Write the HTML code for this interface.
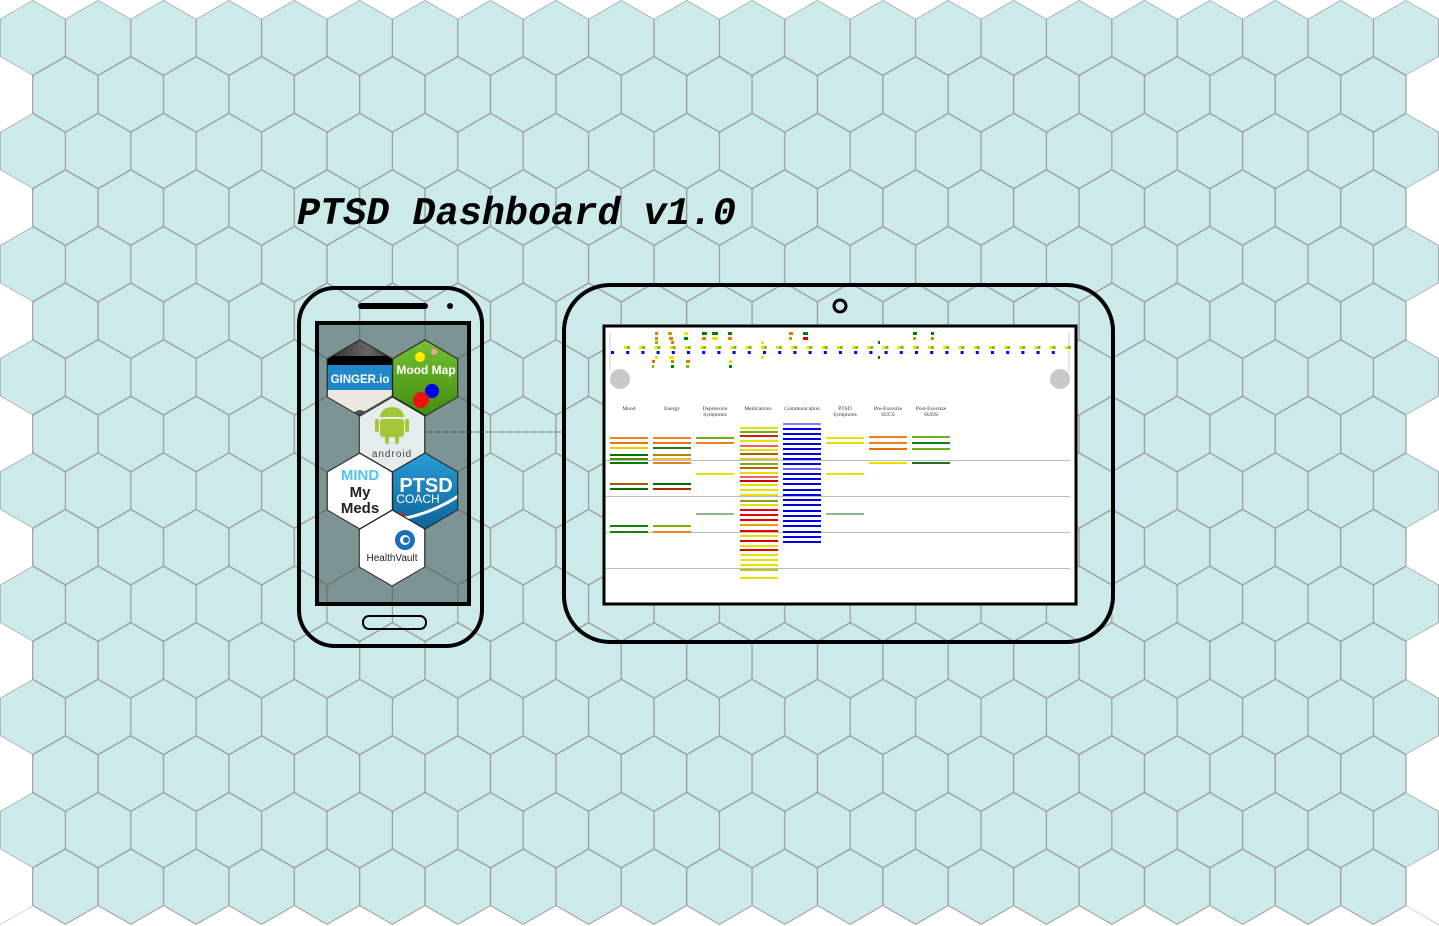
<!DOCTYPE html>
<html><head><meta charset="utf-8"><style>
html,body{margin:0;padding:0;background:#fff;}
svg{display:block;}
</style></head><body>
<svg width="1439" height="926" viewBox="0 0 1439 926" xmlns="http://www.w3.org/2000/svg">
<defs>
<pattern id="hex" x="0" y="0" width="65.4" height="113.2" patternUnits="userSpaceOnUse">
<g fill="#cdeaeb" stroke="#9a9a9a" stroke-width="1.2">
<polygon points="32.7,0 65.4,18.87 65.4,56.6 32.7,75.47 0,56.6 0,18.87"/>
<polygon points="0,56.6 32.7,75.47 32.7,113.2 0,132.07 -32.7,113.2 -32.7,75.47"/>
<polygon points="65.4,56.6 98.1,75.47 98.1,113.2 65.4,132.07 32.7,113.2 32.7,75.47"/>
<polygon points="0,-56.6 32.7,-37.73 32.7,0 0,18.87 -32.7,0 -32.7,-37.73"/>
<polygon points="65.4,-56.6 98.1,-37.73 98.1,0 65.4,18.87 32.7,0 32.7,-37.73"/>
</g>
</pattern>
<pattern id="topw" x="0" y="0" width="65.4" height="19" patternUnits="userSpaceOnUse">
<polygon points="0,0 32.7,0 0,18.87" fill="#fff"/>
<polygon points="32.7,0 65.4,0 65.4,18.87" fill="#fff"/>
</pattern>
<pattern id="botw" x="0" y="905.6" width="65.4" height="21" patternUnits="userSpaceOnUse">
<polygon points="0,19.4 32.7,0.5 65.4,19.4 65.4,21 0,21" fill="#fff"/>
</pattern>
<pattern id="leftw" x="0" y="0" width="40" height="113.2" patternUnits="userSpaceOnUse">
<polygon points="0,56.6 32.1,75.1 32.1,113.6 0,132.07" fill="#fff"/>
<polygon points="0,-56.6 32.1,-38.1 32.1,0.4 0,18.87" fill="#fff"/>
</pattern>
<pattern id="rightw" x="1406" y="0" width="40" height="113.2" patternUnits="userSpaceOnUse">
<polygon points="33,56.6 0.6,75.1 0.6,113.6 33,132.07 40,132 40,56" fill="#fff"/>
<polygon points="33,-56.6 0.6,-38.1 0.6,0.4 33,18.87 40,18.87 40,-56" fill="#fff"/>
</pattern>
<pattern id="bdots" x="611" y="351" width="15.2" height="10" patternUnits="userSpaceOnUse">
<rect x="0" y="0" width="3" height="3" fill="#0000ee"/>
</pattern>
<pattern id="ydots" x="624" y="346" width="15.2" height="10" patternUnits="userSpaceOnUse">
<rect x="0" y="0" width="3" height="3" fill="#e6e600"/>
<rect x="3" y="0" width="3" height="3" fill="#8ab800"/>
</pattern>
<clipPath id="h1"><polygon points="360,340 392.7,359 392.7,397 360,416 327.3,397 327.3,359"/></clipPath>
<clipPath id="h2"><polygon points="425,340 457.7,359 457.7,397 425,416 392.3,397 392.3,359"/></clipPath>
<clipPath id="h3"><polygon points="392,396 424.7,415 424.7,453 392,472 359.3,453 359.3,415"/></clipPath>
<clipPath id="h4"><polygon points="360,453 392.7,472 392.7,510 360,529 327.3,510 327.3,472"/></clipPath>
<clipPath id="h5"><polygon points="425,453 457.7,472 457.7,510 425,529 392.3,510 392.3,472"/></clipPath>
<clipPath id="h6"><polygon points="392,510 424.7,529 424.7,567 392,586 359.3,567 359.3,529"/></clipPath>
<linearGradient id="gtop" x1="0" y1="0" x2="1" y2="0"><stop offset="0" stop-color="#222"/><stop offset="0.6" stop-color="#666"/><stop offset="1" stop-color="#222"/></linearGradient>
<linearGradient id="ggreen" x1="0" y1="0" x2="0" y2="1"><stop offset="0" stop-color="#7cc23a"/><stop offset="1" stop-color="#3d8a0a"/></linearGradient>
<linearGradient id="gblue" x1="0" y1="0" x2="0" y2="1"><stop offset="0" stop-color="#2aa0d8"/><stop offset="1" stop-color="#0b5f95"/></linearGradient>
</defs>

<rect x="0" y="0" width="1439" height="926" fill="url(#hex)"/>
<rect x="0" y="0" width="1439" height="19" fill="url(#topw)"/>
<rect x="0" y="905.6" width="1439" height="21" fill="url(#botw)"/>
<rect x="0" y="0" width="33" height="926" fill="url(#leftw)"/>
<rect x="1406" y="0" width="33" height="926" fill="url(#rightw)"/>

<text x="297" y="224" font-family="Liberation Mono, monospace" font-size="38.5" font-weight="bold" font-style="italic" fill="#000">PTSD Dashboard v1.0</text>

<!-- phone -->
<rect x="299" y="288" width="183" height="358" rx="36" fill="none" stroke="#000" stroke-width="4"/>
<rect x="358" y="303" width="70" height="6" rx="3" fill="#000"/>
<circle cx="450" cy="306" r="3" fill="#000"/>
<rect x="317" y="323" width="152" height="281" fill="rgba(70,90,88,0.6)" stroke="#000" stroke-width="4"/>
<rect x="363" y="616" width="63" height="13" rx="6" fill="none" stroke="#000" stroke-width="2"/>

<!-- icons -->
<g clip-path="url(#h1)">
<rect x="320" y="335" width="80" height="85" fill="#ece8e0"/>
<rect x="320" y="335" width="80" height="22" fill="url(#gtop)"/>
<rect x="320" y="356" width="80" height="9" fill="#000"/>
<rect x="320" y="365" width="80" height="25" fill="#1f88c8"/>
<text x="360" y="383" font-family="Liberation Sans, sans-serif" font-size="11.5" font-weight="bold" fill="#fff" text-anchor="middle">GINGER.io</text>
<circle cx="360" cy="418" r="8" fill="#555"/>
</g>
<g clip-path="url(#h2)">
<rect x="390" y="335" width="70" height="85" fill="url(#ggreen)"/>
<text x="426" y="374" font-family="Liberation Sans, sans-serif" font-size="12" font-weight="bold" fill="#fff" text-anchor="middle">Mood Map</text>
<circle cx="420" cy="357" r="5" fill="#ffee00"/>
<circle cx="434" cy="352" r="3" fill="#f4a0a0"/>
<circle cx="432" cy="391" r="7" fill="#0000ee"/>
<circle cx="421" cy="400" r="8" fill="#ee1111"/>
</g>
<g clip-path="url(#h3)">
<rect x="355" y="392" width="75" height="85" fill="#e5ecec"/>
<rect x="380" y="419" width="24" height="18" rx="3" fill="#a4c639"/>
<path d="M380,417 a12,10 0 0 1 24,0 z" fill="#a4c639"/>
<rect x="375" y="419" width="4" height="13" rx="2" fill="#a4c639"/>
<rect x="405" y="419" width="4" height="13" rx="2" fill="#a4c639"/>
<rect x="385" y="436" width="4" height="8" rx="2" fill="#a4c639"/>
<rect x="395" y="436" width="4" height="8" rx="2" fill="#a4c639"/>
<text x="392" y="457" font-family="Liberation Sans, sans-serif" font-size="10" fill="#444" text-anchor="middle" letter-spacing="1">android</text>
</g>
<g clip-path="url(#h4)">
<rect x="320" y="450" width="80" height="85" fill="#fff"/>
<text x="360" y="480" font-family="Liberation Sans, sans-serif" font-size="15" font-weight="bold" fill="#4fc6f2" text-anchor="middle">MIND</text>
<text x="360" y="497" font-family="Liberation Sans, sans-serif" font-size="15" font-weight="bold" fill="#222" text-anchor="middle">My</text>
<text x="360" y="513" font-family="Liberation Sans, sans-serif" font-size="15" font-weight="bold" fill="#222" text-anchor="middle">Meds</text>
</g>
<g clip-path="url(#h5)">
<rect x="390" y="450" width="70" height="85" fill="url(#gblue)"/>
<text x="426" y="492" font-family="Liberation Sans, sans-serif" font-size="20" font-weight="bold" fill="#fff" text-anchor="middle">PTSD</text>
<text x="418" y="503" font-family="Liberation Sans, sans-serif" font-size="12" fill="#fff" text-anchor="middle">COACH</text>
<path d="M395,520 Q430,515 460,495" stroke="#fff" stroke-width="3" fill="none"/>
<text x="402" y="518" font-size="10" fill="#e02020" text-anchor="middle">★</text>
</g>
<g clip-path="url(#h6)">
<rect x="355" y="505" width="75" height="85" fill="#fff"/>
<circle cx="405" cy="540" r="10" fill="#1a6fb8"/>
<circle cx="405" cy="540" r="5" fill="#fff"/>
<circle cx="406" cy="540" r="3" fill="#1a6fb8"/>
<text x="392" y="561" font-family="Liberation Sans, sans-serif" font-size="10" fill="#222" text-anchor="middle">HealthVault</text>
</g>
<g fill="none" stroke="#222" stroke-width="1">
<polygon points="360,340 392.7,359 392.7,397 360,416 327.3,397 327.3,359"/>
<polygon points="425,340 457.7,359 457.7,397 425,416 392.3,397 392.3,359"/>
<polygon points="392,396 424.7,415 424.7,453 392,472 359.3,453 359.3,415"/>
<polygon points="360,453 392.7,472 392.7,510 360,529 327.3,510 327.3,472"/>
<polygon points="425,453 457.7,472 457.7,510 425,529 392.3,510 392.3,472"/>
<polygon points="392,510 424.7,529 424.7,567 392,586 359.3,567 359.3,529"/>
</g>

<line x1="425" y1="432" x2="563" y2="432" stroke="#333" stroke-width="1" stroke-dasharray="1,1"/>

<!-- tablet -->
<rect x="564" y="285" width="549" height="357" rx="46" fill="none" stroke="#000" stroke-width="4"/>
<circle cx="840" cy="306" r="6" fill="none" stroke="#000" stroke-width="3"/>
<rect x="604" y="326" width="472" height="278" fill="#fff" stroke="#000" stroke-width="3"/>

<!-- dashboard -->
<line x1="610" y1="332" x2="610" y2="372" stroke="#ccc"/>
<line x1="1069" y1="332" x2="1069" y2="372" stroke="#ccc"/>
<circle cx="620" cy="379" r="10" fill="#c8c8c8"/>
<circle cx="1060" cy="379" r="10" fill="#c8c8c8"/>
<rect x="610" y="351" width="455" height="3" fill="url(#bdots)"/>
<rect x="624" y="346" width="447" height="3" fill="url(#ydots)"/>
<g fill="#e87800">
<rect x="655" y="332" width="3" height="3"/><rect x="668" y="332" width="4" height="3" fill="#b0a000"/><rect x="684" y="332" width="4" height="3" fill="#e6e600"/>
<rect x="702" y="332" width="5" height="3" fill="#008000"/><rect x="712" y="332" width="6" height="3" fill="#008000"/><rect x="728" y="332" width="4" height="3" fill="#008000"/>
<rect x="789" y="332" width="4" height="3"/><rect x="803" y="332" width="5" height="3" fill="#008000"/>
<rect x="913" y="332" width="4" height="3" fill="#008000"/><rect x="931" y="332" width="3" height="3" fill="#008000"/>
<rect x="655" y="337" width="3" height="3"/><rect x="669" y="337" width="4" height="3"/><rect x="684" y="337" width="4" height="3" fill="#008000"/>
<rect x="702" y="337" width="4" height="3"/><rect x="712" y="337" width="6" height="3" fill="#e6e600"/><rect x="728" y="337" width="4" height="3"/>
<rect x="789" y="337" width="3" height="3" fill="#8ab800"/><rect x="803" y="337" width="5" height="3" fill="#e00000"/>
<rect x="913" y="337" width="3" height="3" fill="#8ab800"/><rect x="931" y="337" width="3" height="3"/>
<rect x="655" y="341" width="3" height="3" fill="#8ab800"/><rect x="671" y="341" width="3" height="3"/><rect x="761" y="341" width="3" height="3" fill="#e6e600"/>
<rect x="878" y="341" width="2" height="3" fill="#008000"/>
<rect x="655" y="356" width="3" height="3" fill="#e6e600"/><rect x="669" y="356" width="5" height="3" fill="#e6e600"/><rect x="761" y="356" width="3" height="3" fill="#e6e600"/><rect x="878" y="356" width="2" height="3" fill="#008000"/>
<rect x="652" y="360" width="3" height="3"/><rect x="671" y="360" width="3" height="3"/><rect x="686" y="360" width="4" height="3"/><rect x="729" y="360" width="3" height="3" fill="#e6e600"/>
<rect x="652" y="365" width="2" height="3" fill="#8ab800"/><rect x="671" y="365" width="3" height="3" fill="#008000"/><rect x="686" y="365" width="3" height="3" fill="#8ab800"/><rect x="729" y="365" width="3" height="3" fill="#008000"/>
</g>

<g font-family="Liberation Serif, serif" font-size="5.5" fill="#333" text-anchor="middle">
<text x="629" y="410">Mood</text>
<text x="672" y="410">Energy</text>
<text x="715" y="410">Depression</text><text x="715" y="416">Symptoms</text>
<text x="758" y="410">Medications</text>
<text x="802" y="410">Communication</text>
<text x="845" y="410">PTSD</text><text x="845" y="416">Symptoms</text>
<text x="888" y="410">Pre-Exersize</text><text x="888" y="416">SUCS</text>
<text x="931" y="410">Post-Exersize</text><text x="931" y="416">SUDS</text>
</g>

<g stroke="#bbb" stroke-width="1">
<line x1="606" y1="460.5" x2="1070" y2="460.5"/>
<line x1="606" y1="496.5" x2="1070" y2="496.5"/>
<line x1="606" y1="532.5" x2="1070" y2="532.5"/>
<line x1="606" y1="568.5" x2="1070" y2="568.5"/>
</g>

<g stroke-width="2">
<line x1="610" y1="438" x2="648" y2="438" stroke="#f08020"/>
<line x1="610" y1="443" x2="648" y2="443" stroke="#e87800"/>
<line x1="610" y1="448" x2="648" y2="448" stroke="#e6d000"/>
<line x1="610" y1="455" x2="648" y2="455" stroke="#007000"/>
<line x1="610" y1="459" x2="648" y2="459" stroke="#509000"/>
<line x1="610" y1="463" x2="648" y2="463" stroke="#008000"/>
<line x1="610" y1="484" x2="648" y2="484" stroke="#a06000"/>
<line x1="610" y1="489" x2="648" y2="489" stroke="#007000"/>
<line x1="610" y1="526" x2="648" y2="526" stroke="#108010"/>
<line x1="610" y1="532" x2="648" y2="532" stroke="#108010"/>
<line x1="653" y1="438" x2="691" y2="438" stroke="#f08020"/>
<line x1="653" y1="443" x2="691" y2="443" stroke="#e87800"/>
<line x1="653" y1="448" x2="691" y2="448" stroke="#208020"/>
<line x1="653" y1="455" x2="691" y2="455" stroke="#a09000"/>
<line x1="653" y1="459" x2="691" y2="459" stroke="#e8c030"/>
<line x1="653" y1="463" x2="691" y2="463" stroke="#e88020"/>
<line x1="653" y1="484" x2="691" y2="484" stroke="#007000"/>
<line x1="653" y1="489" x2="691" y2="489" stroke="#a03000"/>
<line x1="653" y1="526" x2="691" y2="526" stroke="#80b000"/>
<line x1="653" y1="532" x2="691" y2="532" stroke="#f08020"/>
<line x1="696" y1="438" x2="734" y2="438" stroke="#70b020"/>
<line x1="696" y1="443" x2="734" y2="443" stroke="#f08020"/>
<line x1="696" y1="474" x2="734" y2="474" stroke="#e6e000"/>
<line x1="696" y1="514" x2="734" y2="514" stroke="#207020" stroke-width="1"/>
<line x1="826" y1="438" x2="864" y2="438" stroke="#e6e000"/>
<line x1="826" y1="443" x2="864" y2="443" stroke="#e6e000"/>
<line x1="826" y1="474" x2="864" y2="474" stroke="#e6e000"/>
<line x1="826" y1="514" x2="864" y2="514" stroke="#207020" stroke-width="1"/>
<line x1="869" y1="437" x2="907" y2="437" stroke="#f08020"/>
<line x1="869" y1="443" x2="907" y2="443" stroke="#f08020"/>
<line x1="869" y1="449" x2="907" y2="449" stroke="#e87000"/>
<line x1="869" y1="463" x2="907" y2="463" stroke="#e6e000"/>
<line x1="912" y1="437" x2="950" y2="437" stroke="#70b020"/>
<line x1="912" y1="443" x2="950" y2="443" stroke="#108010"/>
<line x1="912" y1="449" x2="950" y2="449" stroke="#70b020"/>
<line x1="912" y1="463" x2="950" y2="463" stroke="#207020"/>
</g>

<g stroke-width="2">
<line x1="740" y1="428" x2="778" y2="428" stroke="#e6e000"/>
<line x1="740" y1="432" x2="778" y2="432" stroke="#70b020"/>
<line x1="740" y1="436" x2="778" y2="436" stroke="#d02000"/>
<line x1="740" y1="441" x2="778" y2="441" stroke="#e6e000"/>
<line x1="740" y1="446" x2="778" y2="446" stroke="#f06060"/>
<line x1="740" y1="450" x2="778" y2="450" stroke="#e6e000"/>
<line x1="740" y1="454" x2="778" y2="454" stroke="#a06000"/>
<line x1="740" y1="459" x2="778" y2="459" stroke="#e8c030"/>
<line x1="740" y1="464" x2="778" y2="464" stroke="#70b020"/>
<line x1="740" y1="468" x2="778" y2="468" stroke="#c06000"/>
<line x1="740" y1="473" x2="778" y2="473" stroke="#e6e000"/>
<line x1="740" y1="477" x2="778" y2="477" stroke="#f06060"/>
<line x1="740" y1="481" x2="778" y2="481" stroke="#d00000"/>
<line x1="740" y1="485" x2="778" y2="485" stroke="#e6e000"/>
<line x1="740" y1="490" x2="778" y2="490" stroke="#e6e000"/>
<line x1="740" y1="495" x2="778" y2="495" stroke="#e6e000"/>
<line x1="740" y1="501" x2="778" y2="501" stroke="#80a020"/>
<line x1="740" y1="505" x2="778" y2="505" stroke="#e6e000"/>
<line x1="740" y1="510" x2="778" y2="510" stroke="#e80000"/>
<line x1="740" y1="515" x2="778" y2="515" stroke="#e80000"/>
<line x1="740" y1="520" x2="778" y2="520" stroke="#e80000"/>
<line x1="740" y1="525" x2="778" y2="525" stroke="#e6a000"/>
<line x1="740" y1="531" x2="778" y2="531" stroke="#e80000"/>
<line x1="740" y1="536" x2="778" y2="536" stroke="#e6e000"/>
<line x1="740" y1="541" x2="778" y2="541" stroke="#d00000"/>
<line x1="740" y1="546" x2="778" y2="546" stroke="#e6e000"/>
<line x1="740" y1="550" x2="778" y2="550" stroke="#e00000"/>
<line x1="740" y1="555" x2="778" y2="555" stroke="#e6e000"/>
<line x1="740" y1="560" x2="778" y2="560" stroke="#e6e000"/>
<line x1="740" y1="565" x2="778" y2="565" stroke="#e6e000"/>
<line x1="740" y1="570" x2="778" y2="570" stroke="#c8c000"/>
<line x1="740" y1="578" x2="778" y2="578" stroke="#e6e000"/>
</g>
<g stroke="#0000e0" stroke-width="2">
<line x1="783" y1="424" x2="821" y2="424" stroke-width="1"/>
<line x1="783" y1="429" x2="821" y2="429"/>
<line x1="783" y1="434" x2="821" y2="434"/>
<line x1="783" y1="439" x2="821" y2="439"/>
<line x1="783" y1="444" x2="821" y2="444"/>
<line x1="783" y1="449" x2="821" y2="449"/>
<line x1="783" y1="454" x2="821" y2="454"/>
<line x1="783" y1="459" x2="821" y2="459"/>
<line x1="783" y1="464" x2="821" y2="464"/>
<line x1="783" y1="469" x2="821" y2="469" stroke="#6666ee"/>
<line x1="783" y1="474" x2="821" y2="474"/>
<line x1="783" y1="479" x2="821" y2="479"/>
<line x1="783" y1="484" x2="821" y2="484"/>
<line x1="783" y1="490" x2="821" y2="490"/>
<line x1="783" y1="495" x2="821" y2="495"/>
<line x1="783" y1="500" x2="821" y2="500"/>
<line x1="783" y1="505" x2="821" y2="505"/>
<line x1="783" y1="511" x2="821" y2="511"/>
<line x1="783" y1="516" x2="821" y2="516"/>
<line x1="783" y1="521" x2="821" y2="521"/>
<line x1="783" y1="526" x2="821" y2="526"/>
<line x1="783" y1="532" x2="821" y2="532"/>
<line x1="783" y1="537" x2="821" y2="537"/>
<line x1="783" y1="542" x2="821" y2="542"/>
</g>
</svg>
</body></html>
